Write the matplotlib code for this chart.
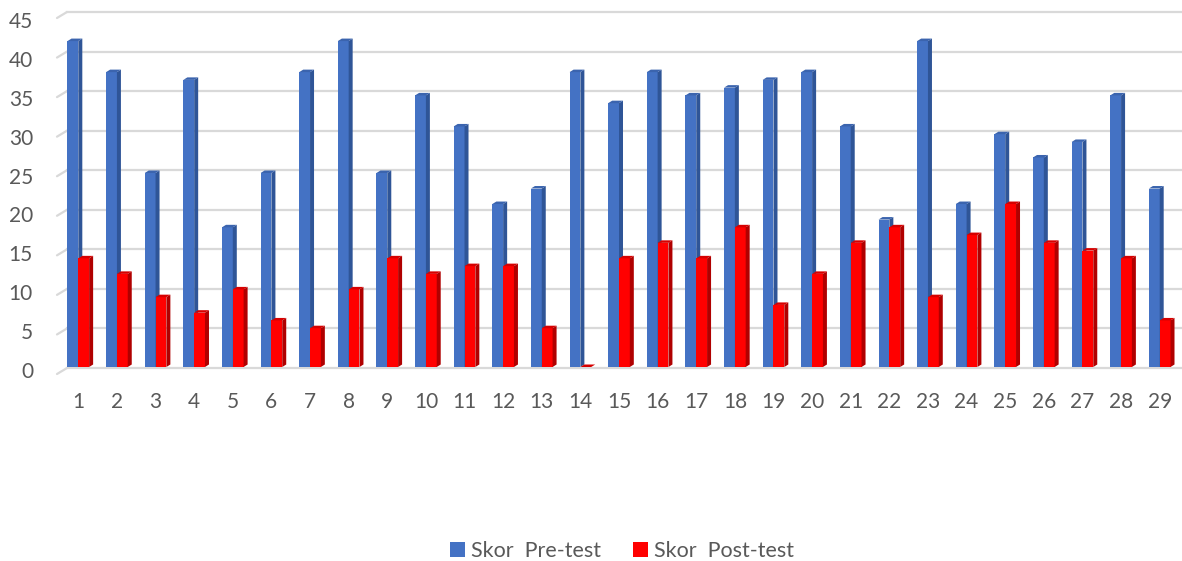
import numpy as np
import matplotlib
matplotlib.use("Agg")
import matplotlib.pyplot as plt
import matplotlib.transforms as mtransforms
from matplotlib.patches import Polygon, Patch

plt.rcParams['font.family'] = ['Lato', 'DejaVu Sans']

categories = [str(i) for i in range(1, 30)]
pre_test = [42, 38, 25, 37, 18, 25, 38, 42, 25, 35, 31, 21, 23, 38, 34,
            38, 35, 36, 37, 38, 31, 19, 42, 21, 30, 27, 29, 35, 23]
post_test = [14, 12, 9, 7, 10, 6, 5, 10, 14, 12, 13, 13, 5, 0, 14,
             16, 14, 18, 8, 12, 16, 18, 9, 17, 21, 16, 15, 14, 6]
y_ticks = [0, 5, 10, 15, 20, 25, 30, 35, 40, 45]

W, H = 1182, 561
fig = plt.figure(figsize=(W / 100, H / 100), dpi=100)
# back wall (gridlines)
ax = fig.add_axes([59 / W, (H - 368) / H, (1179 - 59) / W, (368 - 12) / H])
ax.set_xlim(0.5, 29.5)
ax.set_ylim(0, 45)
ax.axis('off')
# bars sit a bit in front of the wall, so their scale is slightly smaller
ax2 = fig.add_axes([59 / W, (H - 367) / H, (1179 - 59) / W, (367 - 17.8) / H])
ax2.set_xlim(0.5, 29.5)
ax2.set_ylim(0, 45)
ax2.axis('off')

text_col = '#595959'
grid_col = '#D9D9D9'


def px(dx, dy):
    # pixel offset (dy up)
    return mtransforms.ScaledTranslation(dx / 100, dy / 100, fig.dpi_scale_trans)


# gridlines with a little 3d floor edge on the left
blend = mtransforms.blended_transform_factory(ax.transAxes, ax.transData)
blend2 = mtransforms.blended_transform_factory(ax2.transAxes, ax2.transData)
for t in y_ticks:
    ax.plot([0, 1], [t, t], color=grid_col, lw=1.6, transform=blend + px(8, 0),
            clip_on=False, zorder=0)
    ax.annotate('', xy=(0, t), xycoords=blend + px(8, 0),
                xytext=(0, t), textcoords=blend + px(-2, -6),
                arrowprops=dict(arrowstyle='-', color=grid_col, lw=1.6,
                                shrinkA=0, shrinkB=0), annotation_clip=False)
    ax2.text(0, t, str(t), transform=blend2 + px(-26, -4.5), ha='right', va='center',
             fontsize=15, color=text_col)

x = np.arange(1, len(categories) + 1)
bw = 0.28
ddx, ddy = 4, 2.5


def bar3d(xs, hs, front, side, top, z):
    tr = ax2.transData
    o = np.array([ddx, ddy])
    for xi, h in zip(xs, hs):
        x0, x1 = xi - bw / 2, xi + bw / 2
        if h > 0:
            ax2.add_patch(Polygon([(x0, 0), (x1, 0), (x1, h), (x0, h)], closed=True,
                                  facecolor=front, edgecolor='none', zorder=z))
        p0 = tr.transform((x1, 0))
        p1 = tr.transform((x1, h))
        q0 = tr.transform((x0, h))
        ax2.add_patch(Polygon([p0, p1, p1 + o, p0 + o], closed=True, transform=None,
                              facecolor=side, edgecolor='none', zorder=z))
        ax2.add_patch(Polygon([q0, p1, p1 + o, q0 + o], closed=True, transform=None,
                              facecolor=top, edgecolor='none', zorder=z))


bar3d(x - bw / 2, pre_test, '#4472C4', '#2F5597', '#3B64AE', 2)
bar3d(x + bw / 2, post_test, '#FF0000', '#B00000', '#D60000', 3)

for xi, lab in zip(x, categories):
    ax.text(xi, 0, lab, transform=ax.transData + px(0, -34), ha='center',
            va='center', fontsize=15, color=text_col)

handles = [Patch(facecolor='#4472C4', label='Skor  Pre-test'),
           Patch(facecolor='#FF0000', label='Skor  Post-test')]
fig.legend(handles=handles, loc='center', bbox_to_anchor=(622 / W, 10 / H),
           ncol=2, frameon=False, fontsize=15.5, labelcolor=text_col,
           handlelength=0.7, handleheight=0.7, handletextpad=0.3, columnspacing=1.45)

fig.savefig('out.png', dpi=100)
